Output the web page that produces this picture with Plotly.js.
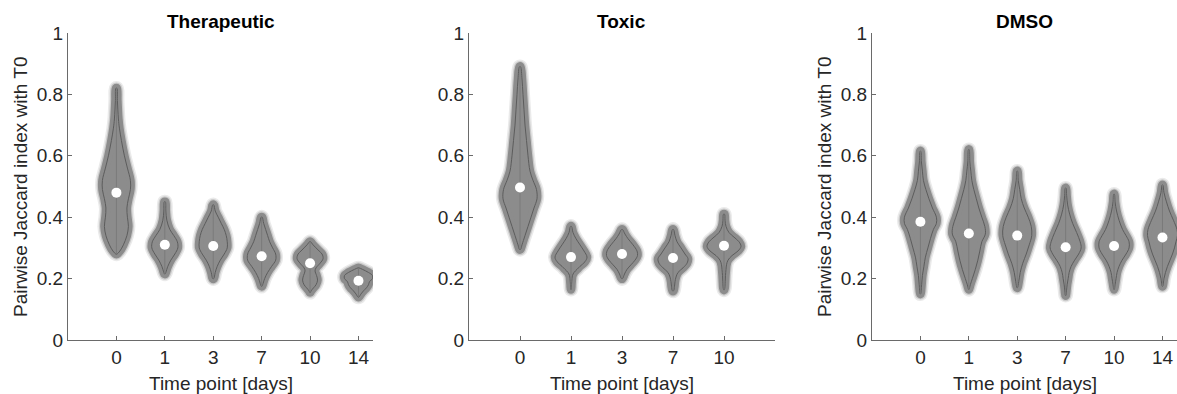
<!DOCTYPE html>
<html>
<head>
<meta charset="utf-8">
<script src="https://cdn.plot.ly/plotly-3.0.1.min.js"></script>
<style>html,body{margin:0;padding:0;background:#fff;}#chart{width:1177px;height:394px;}</style>
</head>
<body>
<div id="chart"></div>
<script>
// ---------- DATA ----------
const panelTitles = ['Therapeutic', 'Toxic', 'DMSO'];
const yAxisTitle = 'Pairwise Jaccard index with T0';
const xAxisTitle = 'Time point [days]';
const yTickVals = [0, 0.2, 0.4, 0.6, 0.8, 1];
const yTickText = ['0', '0.2', '0.4', '0.6', '0.8', '1'];

const therapeuticDays = ['0', '1', '3', '7', '10', '14'];
const toxicDays = ['0', '1', '3', '7', '10'];
const dmsoDays = ['0', '1', '3', '7', '10', '14'];

const therapeuticMedian = [0.48, 0.31, 0.306, 0.273, 0.25, 0.193];
const toxicMedian = [0.497, 0.27, 0.28, 0.267, 0.307];
const dmsoMedian = [0.385, 0.347, 0.34, 0.302, 0.306, 0.334];

// density profiles (levels and relative density)
const therapeuticLevels = [
  [0.82,0.78,0.72,0.69,0.65,0.60,0.56,0.52,0.49,0.46,0.43,0.40,0.37,0.34,0.31,0.29,0.28],
  [0.45,0.42,0.39,0.36,0.34,0.32,0.30,0.28,0.26,0.24,0.22,0.215],
  [0.44,0.42,0.40,0.38,0.36,0.34,0.32,0.30,0.28,0.26,0.24,0.22,0.20],
  [0.40,0.38,0.36,0.34,0.32,0.30,0.28,0.26,0.24,0.22,0.20,0.18,0.175],
  [0.32,0.31,0.30,0.29,0.28,0.265,0.25,0.235,0.225,0.21,0.195,0.18,0.17,0.16,0.155],
  [0.235,0.23,0.22,0.21,0.20,0.19,0.18,0.17,0.16,0.15,0.14]
];
const therapeuticDensity = [
  [0.5,1,2,3,5,8,11,14,14,12,10.5,11,12,10.5,7,3.5,0.5],
  [0.5,1,2,5,9,12.5,13,10,6,3,1,0.3],
  [0.5,2,5,8,11,13,14,14,11,7,4,2,0.5],
  [0.5,2,4,6,8,11,14,14,10,6,3,1,0.3],
  [0.5,3,6,9,12,13,10,6,5,6.5,7.5,6,3.5,1,0.3],
  [0.5,4,10,14,14,11,10,8,5,2.5,0.5]
];
const toxicLevels = [
  [0.89,0.85,0.80,0.75,0.70,0.65,0.60,0.55,0.52,0.49,0.46,0.43,0.40,0.37,0.34,0.31,0.295],
  [0.37,0.35,0.33,0.31,0.29,0.27,0.255,0.24,0.23,0.22,0.21,0.20,0.18,0.165],
  [0.36,0.345,0.33,0.31,0.29,0.275,0.26,0.245,0.23,0.215,0.20],
  [0.36,0.34,0.32,0.30,0.28,0.265,0.25,0.235,0.22,0.205,0.19,0.175,0.16],
  [0.41,0.39,0.37,0.35,0.335,0.32,0.305,0.29,0.275,0.26,0.245,0.23,0.21,0.19,0.17,0.163]
];
const toxicDensity = [
  [0.5,2,3,4,5,6.5,8,10,13,16.5,17,14,11,8,5,2,0.5],
  [0.5,2,5,9,13,16,14,9,6,3,1.5,1,0.5,0.2],
  [0.5,3,6,11,15,15.5,13,9,5,2.5,0.5],
  [0.5,2,4,8,12,15,14,10,5,3,2,1.5,0.5],
  [0.5,1,2,5,10,15,17,14,8,4,2.5,2,1.5,1.2,0.8,0.2]
];
const dmsoLevels = [
  [0.615,0.58,0.55,0.52,0.49,0.46,0.43,0.40,0.38,0.36,0.33,0.30,0.27,0.24,0.21,0.18,0.15],
  [0.62,0.58,0.55,0.52,0.49,0.46,0.43,0.40,0.37,0.345,0.32,0.29,0.26,0.23,0.20,0.18,0.165],
  [0.55,0.52,0.49,0.46,0.43,0.40,0.37,0.34,0.31,0.28,0.25,0.22,0.19,0.17],
  [0.495,0.47,0.44,0.41,0.38,0.35,0.32,0.30,0.28,0.26,0.24,0.22,0.20,0.18,0.16,0.145],
  [0.475,0.45,0.42,0.39,0.36,0.34,0.32,0.30,0.28,0.26,0.24,0.22,0.20,0.18,0.165],
  [0.505,0.48,0.45,0.42,0.39,0.36,0.34,0.32,0.30,0.28,0.26,0.24,0.22,0.20,0.175]
];
const dmsoDensity = [
  [0.3,1,2,3,5.5,8.5,12,16,16,13,10,7.5,5,3.5,2,1.2,0.2],
  [0.3,1,2,3,5,7.5,10,13,16,16.5,13,11,9,6.5,3.5,1.5,0.2],
  [0.3,1,2.5,4,7,11,14,14.5,12,9,5.5,3,1.5,0.2],
  [0.3,1,2,4,7,11,14.5,15.5,13,9,5.5,3.5,2.5,1.5,0.8,0.2],
  [0.3,1,2.5,5,8.5,12,15,15,12,8,5,3,2,1,0.2],
  [0.3,1.5,4,7,11,14.5,15,13.5,12,10,7.5,5,3,1.5,0.2]
];

// ---------- LAYOUT / STYLE ----------
const W = 1177, H = 394;
const xDomains = [[68 / W, 373 / W], [469 / W, 775 / W], [872 / W, 1.0]];
const xRanges = [[0, 6.3], [0, 6], [0, 6.3]];
const yDomain = [54 / H, 361 / H];

const panels = [
  {days: therapeuticDays, med: therapeuticMedian, lev: therapeuticLevels, den: therapeuticDensity},
  {days: toxicDays, med: toxicMedian, lev: toxicLevels, den: toxicDensity},
  {days: dmsoDays, med: dmsoMedian, lev: dmsoLevels, den: dmsoDensity}
];

const FILL = '#8c8c8c';
const traces = [];
panels.forEach((p, pi) => {
  const xa = pi === 0 ? 'x' : 'x' + (pi + 1);
  const ya = pi === 0 ? 'y' : 'y' + (pi + 1);
  const pxPerUnit = (xDomains[pi][1] - xDomains[pi][0]) * W / (xRanges[pi][1] - xRanges[pi][0]);
  p.days.forEach((d, i) => {
    const c = i + 1;
    const lev = p.lev[i], den = p.den[i];
    const xs = [], ys = [];
    for (let k = 0; k < lev.length; k++) { xs.push(c - den[k] / pxPerUnit); ys.push(lev[k]); }
    for (let k = lev.length - 1; k >= 0; k--) { xs.push(c + den[k] / pxPerUnit); ys.push(lev[k]); }
    xs.push(xs[0]); ys.push(ys[0]);
    const base = {x: xs, y: ys, xaxis: xa, yaxis: ya, mode: 'lines', hoverinfo: 'skip', showlegend: false};
    // soft halo
    traces.push(Object.assign({}, base, {line: {color: 'rgba(170,170,170,0.25)', width: 14, shape: 'spline'}}));
    traces.push(Object.assign({}, base, {line: {color: 'rgba(155,155,155,0.4)', width: 11, shape: 'spline'}}));
    // body
    traces.push(Object.assign({}, base, {fill: 'toself', fillcolor: FILL, line: {color: FILL, width: 8.5, shape: 'spline'}}));
    // outline
    traces.push(Object.assign({}, base, {line: {color: '#5c5c5c', width: 1, shape: 'spline'}}));
    // center line
    traces.push({x: [c, c], y: [lev[lev.length - 1], lev[0]], xaxis: xa, yaxis: ya, mode: 'lines',
      line: {color: '#7a7a7a', width: 1}, hoverinfo: 'skip', showlegend: false});
    // median
    traces.push({x: [c], y: [p.med[i]], xaxis: xa, yaxis: ya, mode: 'markers',
      marker: {color: '#ffffff', size: 10, line: {width: 0}}, hoverinfo: 'skip', showlegend: false});
  });
});

const FONT = 'Liberation Sans, Arial, Helvetica, sans-serif';
const TXT = '#262626';
const FS = 19;
const layout = {
  width: W, height: H,
  margin: {l: 0, r: 0, t: 0, b: 0},
  paper_bgcolor: '#ffffff', plot_bgcolor: 'rgba(0,0,0,0)',
  font: {family: FONT, size: FS, color: TXT},
  showlegend: false,
  annotations: []
};
panels.forEach((p, pi) => {
  const sfx = pi === 0 ? '' : String(pi + 1);
  layout['xaxis' + sfx] = {
    domain: xDomains[pi], range: xRanges[pi], anchor: 'y' + sfx,
    tickmode: 'array', tickvals: p.days.map((d, i) => i + 1), ticktext: p.days,
    ticks: 'inside', ticklen: 4, tickcolor: '#6a6a6a', tickwidth: 1,
    showline: true, linecolor: '#6a6a6a', linewidth: 1,
    showgrid: false, zeroline: false, fixedrange: true,
    tickfont: {family: FONT, size: FS, color: TXT}
  };
  layout['yaxis' + sfx] = {
    domain: yDomain, range: [0, 1], anchor: 'x' + sfx,
    tickmode: 'array', tickvals: yTickVals, ticktext: yTickText,
    ticks: 'inside', ticklen: 4, tickcolor: '#6a6a6a', tickwidth: 1,
    showline: true, linecolor: '#6a6a6a', linewidth: 1,
    showgrid: false, zeroline: false, fixedrange: true,
    tickfont: {family: FONT, size: FS, color: TXT}
  };
  const cx = (xDomains[pi][0] + Math.min(xDomains[pi][1], xDomains[pi][0] + 305 / W)) / 2;
  layout.annotations.push({text: '<b>' + panelTitles[pi] + '</b>', xref: 'paper', yref: 'paper',
    x: cx, y: (H - 22) / H, xanchor: 'center', yanchor: 'middle', showarrow: false,
    font: {family: FONT, size: FS, color: '#000000'}});
  layout.annotations.push({text: xAxisTitle, xref: 'paper', yref: 'paper',
    x: cx, y: (H - 383) / H, xanchor: 'center', yanchor: 'middle', showarrow: false,
    font: {family: FONT, size: FS, color: TXT}});
});
[20, 824].forEach(px => {
  layout.annotations.push({text: yAxisTitle, xref: 'paper', yref: 'paper', textangle: -90,
    x: px / W, y: (H - 187) / H, xanchor: 'center', yanchor: 'middle', showarrow: false,
    font: {family: FONT, size: FS, color: TXT}});
});

Plotly.newPlot('chart', traces, layout, {displayModeBar: false, staticPlot: true});
</script>
</body>
</html>
